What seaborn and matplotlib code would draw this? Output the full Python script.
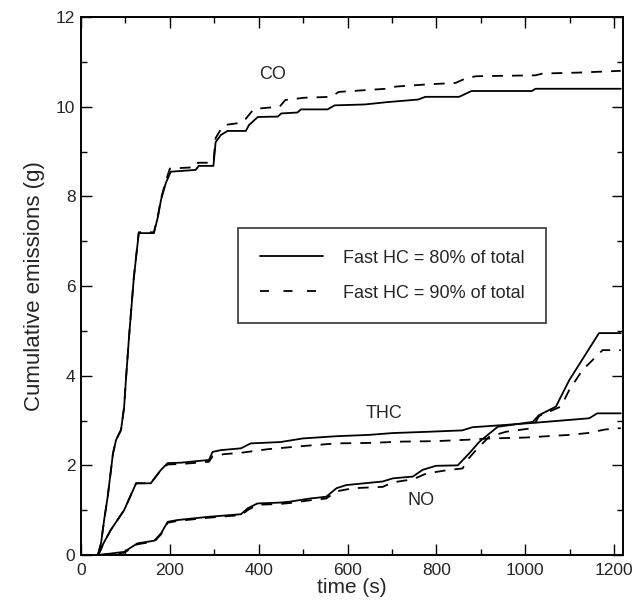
import numpy as np
import pandas as pd
import matplotlib
matplotlib.use("Agg")
import matplotlib.pyplot as plt
import seaborn as sns
from matplotlib.lines import Line2D
from matplotlib.ticker import MultipleLocator

# ---------------- data ----------------
co80_t = [38, 45, 52, 60, 72, 79, 90, 97, 101, 108, 119, 130, 164, 173, 180, 191, 202, 258, 265, 298,
          303, 315, 330, 371, 378, 398, 443, 451, 487, 495, 555, 571, 639, 687, 759, 775, 851, 879,
          1015, 1023, 1215]
co80_y = [0, 0.26, 0.78, 1.3, 2.27, 2.57, 2.79, 3.3, 3.9, 4.86, 6.2, 7.18, 7.18, 7.54, 7.92, 8.3, 8.55,
          8.59, 8.68, 8.68, 9.21, 9.37, 9.46, 9.46, 9.59, 9.77, 9.78, 9.85, 9.87, 9.94, 9.94, 10.03,
          10.05, 10.1, 10.16, 10.22, 10.22, 10.35, 10.35, 10.4, 10.4]

co90_t = [38, 45, 52, 60, 72, 79, 90, 97, 101, 108, 119, 130, 164, 173, 180, 191, 200, 258, 263, 298,
          303, 315, 322, 359, 370, 389, 447, 460, 503, 563, 580, 687, 710, 783, 843, 870, 891, 1023,
          1039, 1118, 1215]
co90_y = [0, 0.26, 0.78, 1.3, 2.27, 2.57, 2.79, 3.3, 3.9, 4.86, 6.2, 7.2, 7.2, 7.56, 7.95, 8.35, 8.62,
          8.65, 8.75, 8.75, 9.3, 9.5, 9.59, 9.64, 9.72, 9.95, 10.0, 10.15, 10.2, 10.22, 10.33, 10.4,
          10.45, 10.5, 10.53, 10.65, 10.68, 10.7, 10.74, 10.76, 10.8]

thc80_t = [39, 50, 67, 97, 124, 157, 180, 195, 225, 288, 296, 315, 360, 382, 449, 499, 575, 649, 701,
           784, 858, 881, 1009, 1144, 1162, 1215]
thc80_y = [0, 0.25, 0.56, 1.0, 1.6, 1.6, 1.9, 2.05, 2.06, 2.12, 2.3, 2.34, 2.38, 2.49, 2.52, 2.6, 2.65,
           2.68, 2.72, 2.75, 2.78, 2.85, 2.94, 3.05, 3.16, 3.16]

thc90_t = [39, 50, 67, 97, 124, 157, 180, 195, 225, 288, 296, 322, 360, 420, 499, 575, 649, 724, 799,
           867, 920, 1000, 1050, 1100, 1140, 1180, 1215]
thc90_y = [0, 0.25, 0.56, 1.0, 1.6, 1.6, 1.9, 2.02, 2.03, 2.08, 2.2, 2.25, 2.28, 2.36, 2.43, 2.49, 2.5,
           2.53, 2.54, 2.57, 2.6, 2.62, 2.65, 2.68, 2.72, 2.8, 2.83]

no80_t = [40, 97, 127, 165, 180, 195, 217, 285, 360, 375, 397, 449, 470, 515, 552, 575, 597, 679, 702,
          747, 769, 799, 848, 874, 897, 938, 1017, 1031, 1069, 1099, 1166, 1215]
no80_y = [0, 0.07, 0.26, 0.32, 0.48, 0.74, 0.78, 0.85, 0.91, 1.04, 1.15, 1.17, 1.19, 1.26, 1.3, 1.49,
          1.56, 1.64, 1.71, 1.75, 1.9, 1.99, 2.0, 2.27, 2.53, 2.86, 2.97, 3.12, 3.31, 3.9, 4.95, 4.95]

no90_t = [40, 97, 127, 165, 180, 195, 217, 285, 360, 375, 397, 449, 470, 515, 552, 575, 612, 679, 702,
          747, 778, 829, 859, 868, 889, 919, 957, 1009, 1020, 1031, 1080, 1099, 1129, 1159, 1174, 1215]
no90_y = [0, 0.05, 0.24, 0.3, 0.46, 0.72, 0.76, 0.83, 0.89, 1.0, 1.12, 1.14, 1.16, 1.22, 1.26, 1.42,
          1.49, 1.52, 1.62, 1.69, 1.82, 1.9, 1.93, 2.1, 2.34, 2.64, 2.75, 2.82, 2.9, 3.1, 3.31, 3.68,
          4.13, 4.42, 4.57, 4.57]

case_labels = ["Fast HC = 80% of total", "Fast HC = 90% of total"]
species_labels = ["CO", "THC", "NO"]
xticks = [0, 200, 400, 600, 800, 1000, 1200]
yticks = [0, 2, 4, 6, 8, 10, 12]

# ---------------- build long table ----------------
series = [
    ("CO", case_labels[0], co80_t, co80_y),
    ("CO", case_labels[1], co90_t, co90_y),
    ("THC", case_labels[0], thc80_t, thc80_y),
    ("THC", case_labels[1], thc90_t, thc90_y),
    ("NO", case_labels[0], no80_t, no80_y),
    ("NO", case_labels[1], no90_t, no90_y),
]
frames = []
for sp, case, t, y in series:
    frames.append(pd.DataFrame({"time": t, "value": y, "species": sp, "case": case,
                                "sid": sp + "|" + case}))
df = pd.concat(frames, ignore_index=True)

# ---------------- plot ----------------
sns.set_theme(style="ticks")
plt.rcParams["font.family"] = ["Liberation Sans", "DejaVu Sans"]

fig = plt.figure(figsize=(6.35, 6.04), dpi=100)
ax = fig.add_axes([0.1276, 0.0811, 0.8535, 0.8907])

dash_map = {case_labels[0]: "", case_labels[1]: (6, 5)}
sns.lineplot(data=df, x="time", y="value", units="sid", style="case", estimator=None,
             sort=False, color="black", linewidth=1.3, dashes=dash_map, legend=False, ax=ax)

ax.set_xlim(0, 1220)
ax.set_ylim(0, 12)
ax.set_xticks(xticks)
ax.set_yticks(yticks)
ax.xaxis.set_minor_locator(MultipleLocator(100))
ax.yaxis.set_minor_locator(MultipleLocator(1))
ax.tick_params(which="both", direction="in", top=True, right=True, color="black",
               labelsize=12.5, width=1.0)
ax.tick_params(axis="x", which="major", length=8, pad=6)
ax.tick_params(axis="y", which="major", length=8, pad=4)
ax.tick_params(which="minor", length=4.5)
for s in ax.spines.values():
    s.set_linewidth(1.4)
    s.set_color("black")

ax.set_xlabel("time (s)", fontsize=15, labelpad=0)
ax.set_ylabel("Cumulative emissions (g)", fontsize=16, labelpad=8)

# series labels
ax.text(432, 10.72, "CO", fontsize=13, ha="center", va="center")
ax.text(683, 3.16, "THC", fontsize=13, ha="center", va="center")
ax.text(765, 1.21, "NO", fontsize=13, ha="center", va="center")

handles = [Line2D([], [], color="black", linewidth=1.3),
           Line2D([], [], color="black", linewidth=1.3, dashes=(5, 8))]
leg = ax.legend(handles, case_labels, loc="upper left", bbox_to_anchor=(0.29, 0.608),
                fontsize=13, frameon=True, fancybox=False, edgecolor="black",
                handlelength=3.5, handletextpad=1.1, labelspacing=1.0, borderpad=1.2,
                borderaxespad=0)
leg.get_frame().set_linewidth(1.2)

fig.savefig("out.png", dpi=100)
